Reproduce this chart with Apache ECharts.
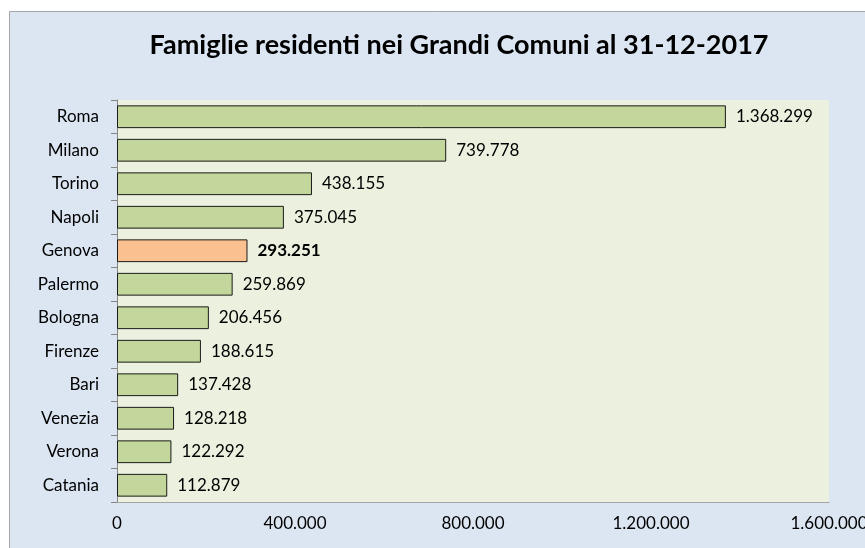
<!DOCTYPE html>
<html>
<head>
<meta charset="utf-8">
<script src="https://cdn.jsdelivr.net/npm/echarts@6/dist/echarts.min.js"></script>
<style>
  html, body { margin: 0; padding: 0; background: #fff; }
  #chart { width: 865px; height: 548px; }
</style>
</head>
<body>
<div id="chart"></div>
<script>
// Comuni, from top to bottom as in the picture
const comuni = ['Roma', 'Milano', 'Torino', 'Napoli', 'Genova', 'Palermo',
  'Bologna', 'Firenze', 'Bari', 'Venezia', 'Verona', 'Catania'];
const famiglie = [1368299, 739778, 438155, 375045, 293251, 259869,
  206456, 188615, 137428, 128218, 122292, 112879];
const evidenziato = 'Genova';

// 1368299 -> "1.368.299"
const fmt = (v) => String(v).replace(/\B(?=(\d{3})+(?!\d))/g, '.');

const font = 'Lato, "Open Sans", sans-serif';

const chart = echarts.init(document.getElementById('chart'));

chart.setOption({
  animation: false,
  backgroundColor: '#ffffff',
  graphic: [{
    type: 'rect',
    z: -10,
    shape: { x: 9.5, y: 11.5, width: 900, height: 600 },
    style: { fill: '#dce6f2', stroke: '#a6a6a6', lineWidth: 1 }
  }],
  title: {
    text: 'Famiglie residenti nei Grandi Comuni al 31-12-2017',
    left: 454,
    top: 27,
    textAlign: 'center',
    textStyle: { fontFamily: font, fontSize: 27, fontWeight: 'bold', color: '#000' }
  },
  grid: {
    left: 117, right: 36, top: 100, bottom: 46,
    outerBoundsMode: 'none',
    containLabel: false,
    show: true, backgroundColor: '#ebf1de', borderWidth: 0
  },
  xAxis: {
    type: 'value',
    min: 0,
    max: 1600000,
    interval: 400000,
    axisLine: { show: true, lineStyle: { color: '#a6a6a6' } },
    axisTick: { show: false },
    splitLine: { show: false },
    axisLabel: {
      formatter: fmt,
      margin: 13,
      fontFamily: font, fontSize: 17, color: '#000',
      showMaxLabel: true
    }
  },
  yAxis: {
    type: 'category',
    inverse: true,
    data: comuni,
    axisLine: { show: true, lineStyle: { color: '#868686' } },
    axisTick: { show: true, length: 6, lineStyle: { color: '#868686' } },
    axisLabel: { margin: 18, fontFamily: font, fontSize: 17, color: '#000' }
  },
  series: [{
    type: 'bar',
    barCategoryGap: '32%',
    data: famiglie.map((v, i) => {
      const hl = comuni[i] === evidenziato;
      return {
        value: v,
        itemStyle: { color: hl ? '#fac090' : '#c3d69b' },
        label: hl ? { fontWeight: 'bold' } : {}
      };
    }),
    itemStyle: { borderColor: '#1a1a1a', borderWidth: 1 },
    label: {
      show: true,
      position: 'right',
      distance: 10,
      formatter: (p) => fmt(p.value),
      fontFamily: font, fontSize: 17, color: '#000'
    }
  }]
});
</script>
</body>
</html>
